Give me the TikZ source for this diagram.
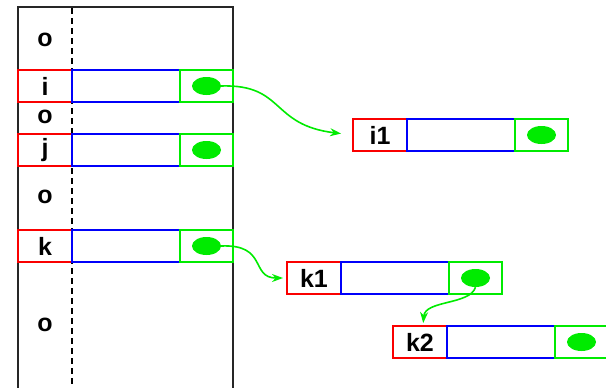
\documentclass[tikz,border=0pt]{standalone}
\usepackage{fontspec}
\setmainfont{Liberation Sans}
\usetikzlibrary{shapes.geometric,arrows.meta}
\definecolor{gr}{RGB}{0,235,0}
\definecolor{rd}{RGB}{250,0,0}
\definecolor{bl}{RGB}{0,0,250}
\tikzset{
  cell/.style={draw, line width=1.3pt, inner sep=0pt, outer sep=0pt, minimum height=32pt,
    font=\fontsize{25}{27}\selectfont\bfseries, text=black},
  keybox/.style={cell, draw=rd, minimum width=54pt, anchor=north west},
  databox/.style={cell, draw=bl, minimum width=108pt, anchor=west},
  ptrbox/.style={cell, draw=gr, minimum width=53pt, anchor=west},
  dot/.style={ellipse, fill=gr, draw=none, minimum width=29pt, minimum height=18pt, inner sep=0pt},
  olabel/.style={font=\fontsize{25}{27}\selectfont\bfseries, inner sep=0pt},
  frame/.style={line width=1.6pt, black!85},
  link/.style={draw=gr, line width=1.6pt, -{Stealth[length=11pt,width=8pt]}}
}
\begin{document}
\begin{tikzpicture}[x=1pt,y=-1pt]
\useasboundingbox (0,0) rectangle (606,388);
% table frame
\draw[frame] (18,390) -- (18,7) -- (233,7) -- (233,390);
\draw[line width=1.4pt, dash pattern=on 6pt off 4pt] (72,8) -- (72,390);
% o labels
\node[olabel] (o1) at (45,40) {o};
\node[olabel] (o2) at (45,117) {o};
\node[olabel] (o3) at (45,197) {o};
\node[olabel] (o4) at (45,325) {o};
% rows in table
\node[keybox] (i) at (18,70) {i};
\node[databox] (id) at (i.east) {};
\node[ptrbox] (ip) at (id.east) {};
\node[dot] (idot) at (ip.center) {};
\node[keybox] (j) at (18,134) {j};
\node[databox] (jd) at (j.east) {};
\node[ptrbox] (jp) at (jd.east) {};
\node[dot] (jdot) at (jp.center) {};
\node[keybox] (k) at (18,230) {k};
\node[databox] (kd) at (k.east) {};
\node[ptrbox] (kp) at (kd.east) {};
\node[dot] (kdot) at (kp.center) {};
% chained entries
\node[keybox] (i1) at (353,119) {i1};
\node[databox] (i1d) at (i1.east) {};
\node[ptrbox] (i1p) at (i1d.east) {};
\node[dot] (i1dot) at (i1p.center) {};
\node[keybox] (k1) at (287,262) {k1};
\node[databox] (k1d) at (k1.east) {};
\node[ptrbox] (k1p) at (k1d.east) {};
\node[dot] (k1dot) at (k1p.center) {};
\node[keybox] (k2) at (393,326) {k2};
\node[databox] (k2d) at (k2.east) {};
\node[ptrbox] (k2p) at (k2d.east) {};
\node[dot] (k2dot) at (k2p.center) {};
% links
\draw[link, shorten >=12pt] (idot.east) .. controls (285,84) and (270,125) .. (i1.west);
\draw[link, shorten >=4pt] (kdot.east) .. controls (268,244) and (250,278) .. (k1.west);
\draw[link, shorten >=3pt] (k1dot.south) .. controls (470,305) and (425,300) .. (k2.north -| 423,0);
\end{tikzpicture}
\end{document}
